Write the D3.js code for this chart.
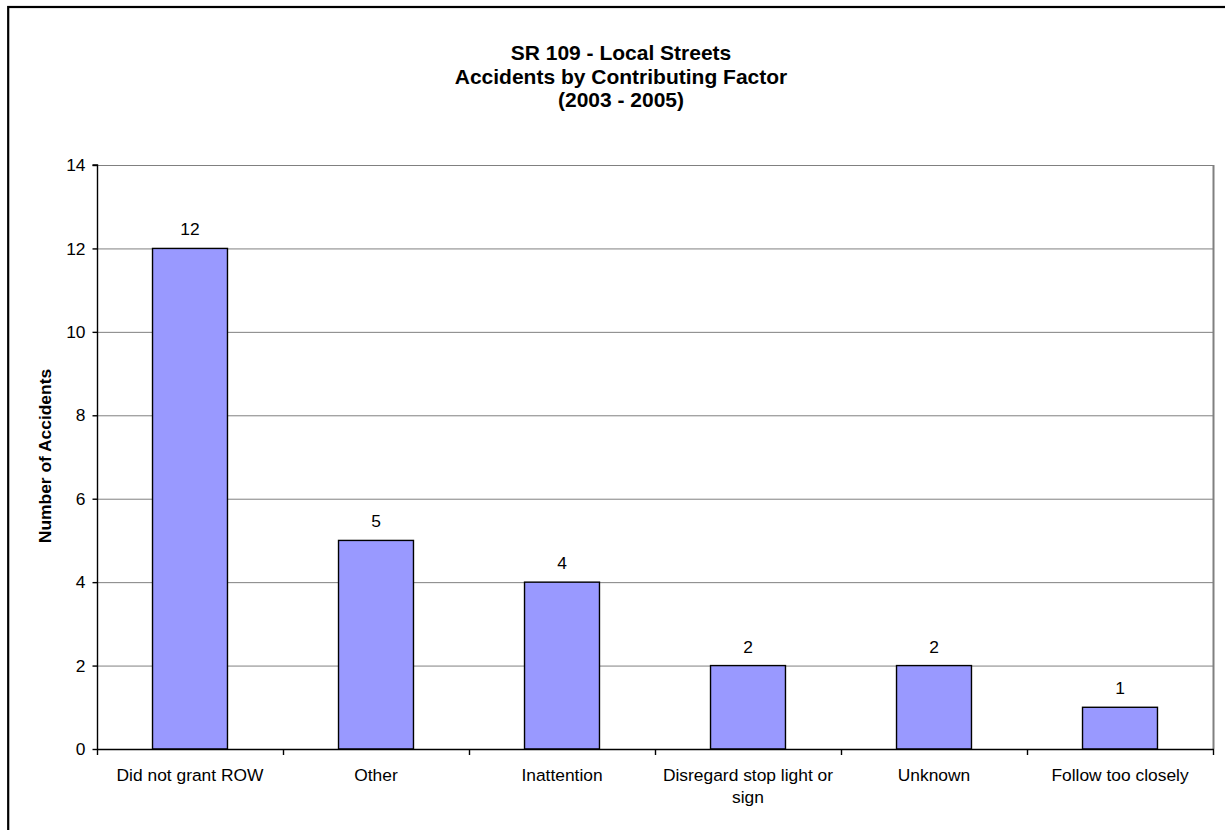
<!DOCTYPE html>
<html>
<head>
<meta charset="utf-8">
<script src="https://cdn.jsdelivr.net/npm/d3@7"></script>
<style>
  html, body { margin: 0; padding: 0; background: #fff; }
  svg { display: block; font-family: "Liberation Sans", Arial, sans-serif; }
</style>
</head>
<body>
<svg id="chart" width="1225" height="830"></svg>
<script>
// Contributing factors and accident counts
const categories = ["Did not grant ROW", "Other", "Inattention", "Disregard stop light or sign", "Unknown", "Follow too closely"];
const accidents = [12, 5, 4, 2, 2, 1];
const yTicks = [0, 2, 4, 6, 8, 10, 12, 14];
const titleLines = ["SR 109 - Local Streets", "Accidents by Contributing Factor", "(2003 - 2005)"];
const yAxisTitle = "Number of Accidents";

const svg = d3.select("#chart");
const W = 1225, H = 830;
const plot = { left: 97, right: 1213, top: 165, bottom: 749 };
const labelFont = 17.4;
const titleFont = 21;

svg.append("rect").attr("width", W).attr("height", H).attr("fill", "#fff");

// Chart frame (runs off the right and bottom edges)
svg.append("rect")
  .attr("x", 8.2).attr("y", 7)
  .attr("width", 1240).attr("height", 840)
  .attr("fill", "none").attr("stroke", "#000").attr("stroke-width", 2.2);

const x = d3.scaleBand().domain(categories).range([plot.left, plot.right]).paddingInner(0).paddingOuter(0);
const y = d3.scaleLinear().domain([0, 14]).range([plot.bottom, plot.top]);

// Gridlines
svg.append("g")
  .selectAll("line")
  .data(yTicks.filter(d => d > 0))
  .join("line")
  .attr("x1", plot.left).attr("x2", plot.right)
  .attr("y1", d => y(d) + 0.5).attr("y2", d => y(d) + 0.5)
  .attr("stroke", "#808080").attr("stroke-width", 1);

// Right edge of plot area
svg.append("line")
  .attr("x1", plot.right + 0.5).attr("x2", plot.right + 0.5)
  .attr("y1", plot.top).attr("y2", plot.bottom)
  .attr("stroke", "#808080").attr("stroke-width", 2);

// Bars
const bw = x.bandwidth() * 0.403;
svg.append("g")
  .selectAll("rect")
  .data(accidents)
  .join("rect")
  .attr("x", (d, i) => x(categories[i]) + (x.bandwidth() - bw) / 2)
  .attr("y", d => y(d))
  .attr("width", bw)
  .attr("height", d => y(0) - y(d))
  .attr("fill", "#9999FF")
  .attr("stroke", "#000").attr("stroke-width", 1.4);

// Value labels
svg.append("g")
  .selectAll("text")
  .data(accidents)
  .join("text")
  .attr("x", (d, i) => x(categories[i]) + x.bandwidth() / 2)
  .attr("y", d => y(d) - 13)
  .attr("text-anchor", "middle")
  .attr("font-size", labelFont)
  .attr("fill", "#000")
  .text(d => d);

// Y axis
const yAxis = d3.axisLeft(y).tickValues(yTicks).tickSize(5).tickPadding(7).tickFormat(d3.format("d"));
const gy = svg.append("g").attr("transform", `translate(${plot.left + 0.5},0)`).call(yAxis);
gy.select(".domain").attr("stroke", "#000").attr("stroke-width", 1.4).attr("d", `M-5,${y(14)}H0V${y(0)}`);
gy.selectAll(".tick line").attr("stroke", "#000").attr("stroke-width", 1.4);
gy.selectAll(".tick text").attr("font-size", labelFont).attr("font-family", "Liberation Sans, Arial, sans-serif").attr("fill", "#000");

// X axis with ticks on category boundaries
svg.append("line")
  .attr("x1", plot.left).attr("x2", plot.right + 1)
  .attr("y1", plot.bottom + 0.5).attr("y2", plot.bottom + 0.5)
  .attr("stroke", "#000").attr("stroke-width", 1.4);
const bounds = categories.map(c => x(c)).concat([plot.right]);
svg.append("g")
  .selectAll("line")
  .data(bounds)
  .join("line")
  .attr("x1", d => d + 0.5).attr("x2", d => d + 0.5)
  .attr("y1", plot.bottom).attr("y2", plot.bottom + 6)
  .attr("stroke", "#000").attr("stroke-width", 1.4);

// Category labels, wrapped to the band width
const gx = svg.append("g");
categories.forEach((c, i) => {
  const cx = x(c) + x.bandwidth() / 2;
  const t = gx.append("text")
    .attr("x", cx)
    .attr("y", 781)
    .attr("text-anchor", "middle")
    .attr("font-size", labelFont)
    .attr("fill", "#000");
  const words = c.split(" ");
  let line = [];
  let tspan = t.append("tspan").attr("x", cx).attr("dy", 0);
  words.forEach(w => {
    line.push(w);
    tspan.text(line.join(" "));
    if (tspan.node().getComputedTextLength() > x.bandwidth() - 10 && line.length > 1) {
      line.pop();
      tspan.text(line.join(" "));
      line = [w];
      tspan = t.append("tspan").attr("x", cx).attr("dy", 21.5).text(w);
    }
  });
});

// Y axis title
svg.append("text")
  .attr("transform", `translate(51,456) rotate(-90)`)
  .attr("text-anchor", "middle")
  .attr("font-size", labelFont)
  .attr("font-weight", "bold")
  .attr("fill", "#000")
  .text(yAxisTitle);

// Chart title
svg.append("g")
  .selectAll("text")
  .data(titleLines)
  .join("text")
  .attr("x", 621)
  .attr("y", (d, i) => 60 + i * 23.5)
  .attr("text-anchor", "middle")
  .attr("font-size", titleFont)
  .attr("font-weight", "bold")
  .attr("fill", "#000")
  .text(d => d);
</script>
</body>
</html>
